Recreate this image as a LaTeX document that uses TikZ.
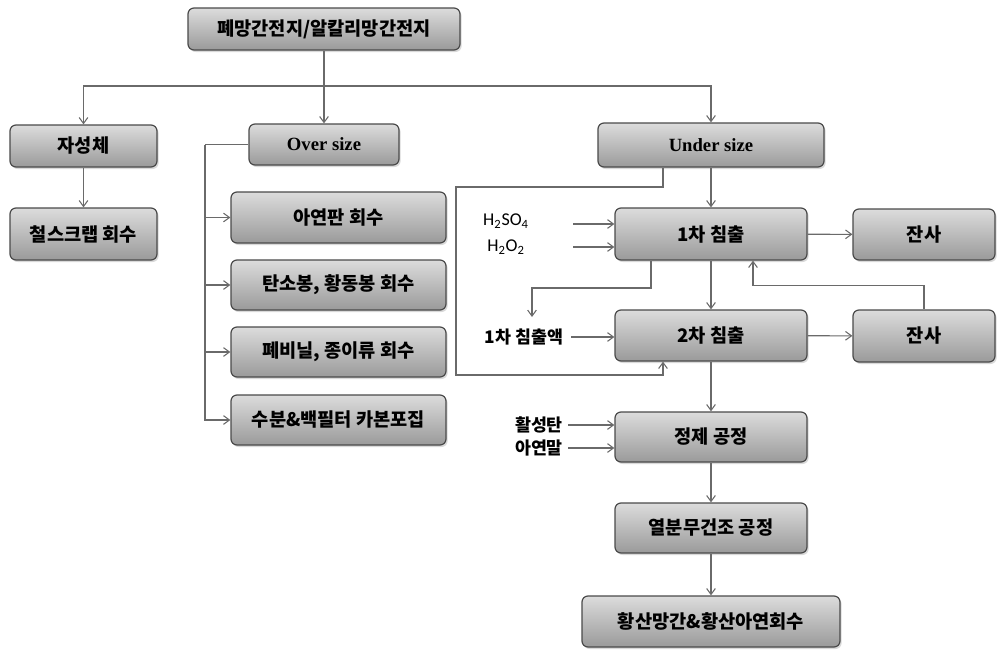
\documentclass[tikz,border=0pt]{standalone}
\usepackage{fontspec}
\setmainfont{Liberation Serif}
\newfontfamily\kr{Noto Sans CJK KR}
\newfontfamily\calfont{Carlito}
\usetikzlibrary{arrows.meta,shadows,calc}
\definecolor{boxtop}{HTML}{DCDCDC}
\definecolor{boxbot}{HTML}{9A9A9A}
\definecolor{boxline}{HTML}{4A4A4A}
\definecolor{lncol}{HTML}{6A6A6A}
\begin{document}
\begin{tikzpicture}[x=0.75pt, y=-0.75pt,
  box/.style={draw=boxline, line width=0.9pt, rounded corners=4.5pt,
    top color=boxtop, bottom color=boxbot,
    drop shadow={shadow xshift=1.2pt, shadow yshift=-1.5pt, opacity=0.3},
    font=\kr\bfseries\fontsize{14}{16}\selectfont, inner sep=0pt},
  engbox/.style={box, font=\bfseries\fontsize{14}{16}\selectfont},
  sz/.style 2 args={minimum width=#1*0.75pt, minimum height=#2*0.75pt},
  lab/.style={inner sep=0pt, font=\kr\bfseries\fontsize{13}{15}\selectfont},
  chem/.style={inner sep=0pt, font=\calfont\fontsize{13.5}{15}\selectfont},
  ln/.style={draw=lncol, line width=0.8pt},
  arr/.style={ln, -{Straight Barb[length=4.5pt, width=6.5pt]}}]
\useasboundingbox (0,0) rectangle (997,650);

% boxes
\node[box, sz={272}{42}] (top) at (324,29) {폐망간전지/알칼리망간전지};
\node[box, sz={147}{42}] (jas) at (83.5,146) {자성체};
\node[box, sz={147}{52}] (chul) at (83.5,234) {철스크랩 회수};
\node[engbox, sz={150}{41}] (over) at (324,144.5) {Over size};
\node[engbox, sz={226}{44}] (under) at (711,145) {Under size};
\node[box, sz={215}{51}] (zinc) at (338.5,217.5) {아연판 회수};
\node[box, sz={215}{50}] (carb) at (338.5,285) {탄소봉, 황동봉 회수};
\node[box, sz={215}{50}] (viny) at (338.5,352) {폐비닐, 종이류 회수};
\node[box, sz={215}{50}] (watr) at (338.5,420) {수분\&백필터 카본포집};
\node[box, sz={192}{52}] (l1) at (711,234) {1차 침출};
\node[box, sz={142}{51}] (r1) at (924,234.5) {잔사};
\node[box, sz={192}{51}] (l2) at (711,335.5) {2차 침출};
\node[box, sz={142}{52}] (r2) at (924,336) {잔사};
\node[box, sz={192}{50}] (pur) at (711,437) {정제 공정};
\node[box, sz={192}{50}] (dry) at (711,528) {열분무건조 공정};
\node[box, sz={258}{51}] (fin) at (711,621.5) {황산망간\&황산아연회수};

% labels
\node[chem] (h2so4) at (506,221) {H\textsubscript{2}SO\textsubscript{4}};
\node[chem] (h2o2) at (506,247) {H\textsubscript{2}O\textsubscript{2}};
\node[lab] (liq) at (524,337) {1차 침출액};
\node[lab] (act) at (539,425) {활성탄};
\node[lab] (zpw) at (539,448) {아연말};

% top distribution
\coordinate (hb) at (324,86);
\draw[ln] (top) -- (hb);
\draw[arr] (hb) -| (jas);
\draw[arr] (hb) -- (over);
\draw[arr] (hb) -| (under);
\draw[arr] (jas) -- (chul);

% over size branch
\coordinate (ol) at (205,144.5);
\draw[ln] (over.west) -- (ol);
\draw[arr] (ol) |- (watr.west);
\foreach \n in {zinc,carb,viny} \draw[arr] (ol |- \n.west) -- (\n.west);

% under size branch
\draw[arr] (under) -- (l1);
\coordinate (lp1) at (456,187);
\coordinate (lp2) at (456,375);
\draw[arr] ($(under.south)+(-48,0)$) |- (lp1) -- (lp2) -| ($(l2.south)+(-48,0)$);

\draw[arr] ($(l1.west)+(-41,-10)$) -- ($(l1.west)+(0,-10)$);
\draw[arr] ($(l1.west)+(-41,13)$) -- ($(l1.west)+(0,13)$);
\draw[arr] (l1) -- (r1);

\coordinate (lq1) at (532,288);
\coordinate (lq2) at (532,317);
\draw[arr] ($(l1.south)+(-60,0)$) |- (lq1) -- (lq2);
\draw[arr] (l1) -- (l2);
\draw[arr] (r2.north) |- ($(l1.south)+(42,25)$) -- ($(l1.south)+(42,0)$);

\draw[arr] ($(liq.east)+(8,0)$) -- (l2.west |- liq);
\draw[arr] (l2) -- (r2);
\draw[arr] (l2) -- (pur);
\draw[arr] ($(act.east)+(5,0)$) -- (pur.west |- act);
\draw[arr] ($(zpw.east)+(5,0)$) -- (pur.west |- zpw);
\draw[arr] (pur) -- (dry);
\draw[arr] (dry) -- (fin);
\end{tikzpicture}
\end{document}
